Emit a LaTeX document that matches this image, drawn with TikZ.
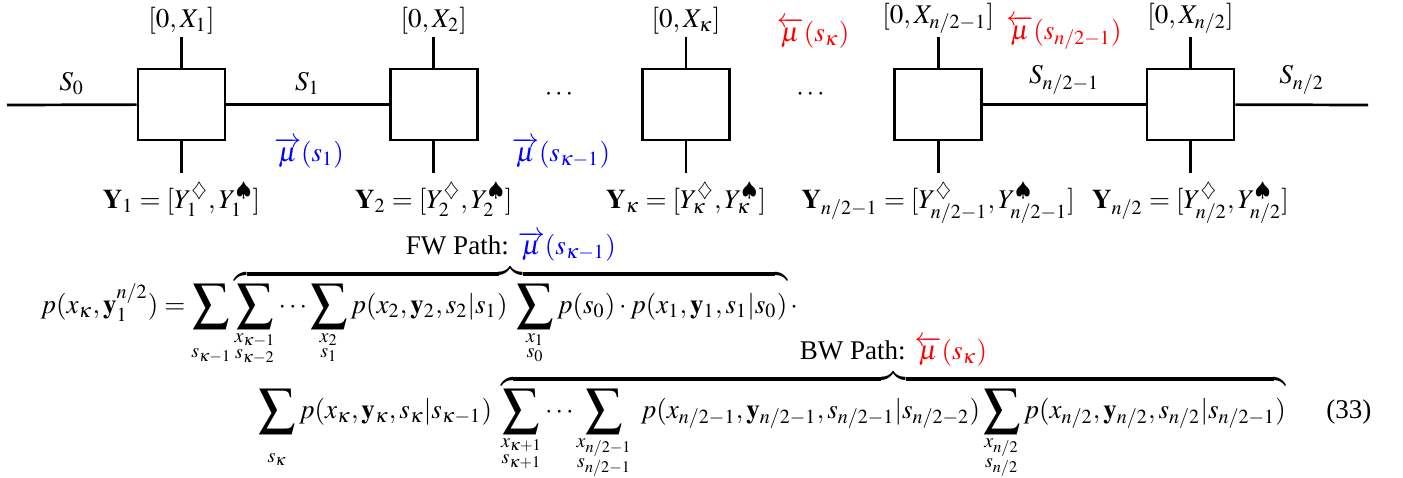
\documentclass[tikz,border=0pt]{standalone}
\usepackage{amsmath}
\usepackage{mathptmx}
\usepackage{fontspec}
\setmainfont{Liberation Serif}
\usepackage{graphicx}
\usepackage{xcolor}
\usepackage{tikz}

\newcommand{\bsum}{\mathop{\vcenter{\hbox{\scalebox{1.35}{$\displaystyle\sum$}}}}\limits}

\tikzset{
  blk/.style={draw, line width=1pt, minimum width=32.2pt, minimum height=26.3pt, inner sep=0pt},
  wire/.style={line width=1pt},
  fwmsg/.style={text=blue},
  bwmsg/.style={text=red}
}

\begin{document}
\begin{tikzpicture}[x=0.37pt, y=-0.37pt]
    \useasboundingbox (0,0) rectangle (1403,477);
    % trellis sections with their stubs
    \foreach \i/\x in {1/181.5, 2/433.75, 3/686, 4/938.25, 5/1190.5} {
      \node[blk] (b\i) at (\x,104.5) {};
      \coordinate (t\i) at (\x,37);
      \coordinate (u\i) at (\x,173);
      \draw[wire] (b\i.north) -- (t\i);
      \draw[wire] (b\i.south) -- (u\i);
    }
    \node[above, inner sep=1pt] at (t1) {$[0,X_1]$};
    \node[above, inner sep=1pt] at (t2) {$[0,X_2]$};
    \node[above, inner sep=1pt] at (t3) {$[0,X_\kappa]$};
    \node[above, inner sep=1pt] at (t4) {$[0,X_{n/2-1}]$};
    \node[above, inner sep=1pt] at (t5) {$[0,X_{n/2}]$};
    \node[below] at (u1) {$\mathbf{Y}_1=[Y_1^{\diamondsuit},Y_1^{\spadesuit}]$};
    \node[below] at (u2) {$\mathbf{Y}_2=[Y_2^{\diamondsuit},Y_2^{\spadesuit}]$};
    \node[below] at (u3) {$\mathbf{Y}_\kappa=[Y_\kappa^{\diamondsuit},Y_\kappa^{\spadesuit}]$};
    \node[below] at (u4) {$\mathbf{Y}_{n/2-1}=[Y_{n/2-1}^{\diamondsuit},Y_{n/2-1}^{\spadesuit}]$};
    \node[below] at (u5) {$\mathbf{Y}_{n/2}=[Y_{n/2}^{\diamondsuit},Y_{n/2}^{\spadesuit}]$};
    % state line
    \coordinate (w0) at (7,105);
    \coordinate (w6) at (1368,105);
    \draw[wire] (w0) -- node[above] {$S_0$} (b1);
    \draw[wire] (b1) -- node[above] {$S_1$} (b2);
    \draw[wire] (b4) -- node[above] {$S_{n/2-1}$} (b5);
    \draw[wire] (b5) -- node[above] {$S_{n/2}$} (w6);
    \node (d1) at (560.5,95) {$\cdots$};
    \node (d2) at (812,95) {$\cdots$};
    % messages
    \node[fwmsg] (m1) at (309,153) {$\overrightarrow{\mu}(s_1)$};
    \node[fwmsg] (m2) at (561,153) {$\overrightarrow{\mu}(s_{\kappa-1})$};
    \node[bwmsg] (m3) at (813,33) {$\overleftarrow{\mu}(s_\kappa)$};
    \node[bwmsg] (m4) at (1064,33) {$\overleftarrow{\mu}(s_{n/2-1})$};
    % equation
    \node[anchor=base west, inner sep=0pt] (eqa) at (40,313) {$\displaystyle
      p(x_\kappa,\mathbf{y}_1^{n/2}) = \bsum_{\substack{\vphantom{x}\\ s_{\kappa-1}}}
      \overbrace{\bsum_{\substack{x_{\kappa-1}\\ s_{\kappa-2}}}\cdots\bsum_{\substack{x_2\\ s_1}} p(x_2,\mathbf{y}_2,s_2|s_1)\;
      \bsum_{\substack{x_1\\ s_0}} p(s_0)\cdot p(x_1,\mathbf{y}_1,s_1|s_0)}^{\textstyle\text{FW Path: }\textcolor{blue}{\overrightarrow{\mu}(s_{\kappa-1})}}\cdot$};
    \node[anchor=base west, inner sep=0pt] (eqb) at (258,418) {$\displaystyle
      \bsum_{\substack{\vphantom{x}\\ s_\kappa}} p(x_\kappa,\mathbf{y}_\kappa,s_\kappa|s_{\kappa-1})\;
      \overbrace{\bsum_{\substack{x_{\kappa+1}\\ s_{\kappa+1}}}\cdots\bsum_{\substack{x_{n/2-1}\\ s_{n/2-1}}}\; p(x_{n/2-1},\mathbf{y}_{n/2-1},s_{n/2-1}|s_{n/2-2})
      \bsum_{\substack{x_{n/2}\\ s_{n/2}}} p(x_{n/2},\mathbf{y}_{n/2},s_{n/2}|s_{n/2-1})}^{\textstyle\text{BW Path: }\textcolor{red}{\overleftarrow{\mu}(s_\kappa)}}$};
    \node[anchor=base east, inner sep=0pt] (tag) at (1372,418) {(33)};
  \end{tikzpicture}
\end{document}
